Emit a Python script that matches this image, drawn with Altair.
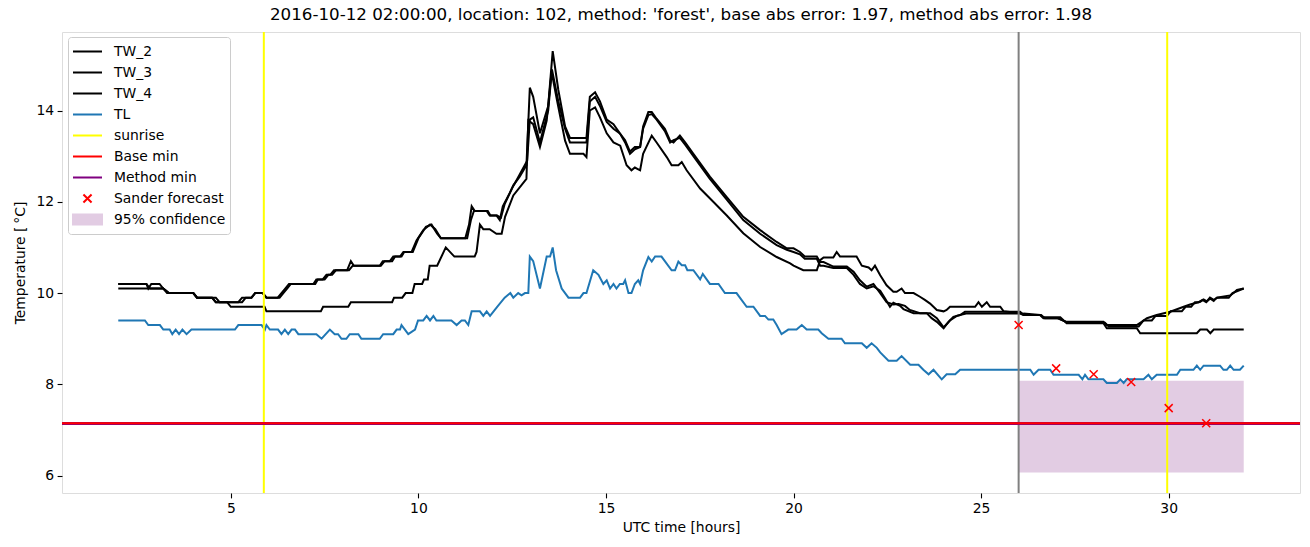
import altair as alt
import pandas as pd

# ---------------- data ----------------
TW2_T = [2.0, 2.75, 2.8, 2.88, 3.1, 3.2, 3.35, 4.0, 4.1, 4.6, 4.7, 5.2, 5.3, 5.55, 5.65, 5.85, 5.95, 6.3, 6.4, 6.5,
         6.6, 7.2, 7.28, 7.45, 7.55, 7.65, 7.75, 8.1, 8.2, 8.28, 8.97, 9.05, 9.24, 9.33, 9.51, 9.6, 9.82, 9.95, 10.13,
         10.31, 10.45, 10.6, 11.25, 11.35, 11.42, 11.5, 11.82, 11.9, 12.08, 12.17, 12.25, 12.44, 12.53, 12.7, 12.88,
         12.97, 13.06, 13.24, 13.46, 13.58, 13.73, 13.91, 14.04, 14.48, 14.57, 14.71, 14.84, 15.02, 15.2, 15.37,
         15.51, 15.64, 15.77, 15.91, 15.99, 16.13, 16.22, 16.35, 16.57, 16.71, 16.8, 16.97, 17.11, 17.33, 17.77,
         18.22, 18.66, 19.11, 19.55, 19.82, 20.0, 20.17, 20.3, 20.62, 20.71, 20.8, 21.06, 21.42, 21.6, 21.77, 21.95,
         22.13, 22.31, 22.48, 22.66, 22.8, 22.97, 23.1, 23.37, 23.64, 23.82, 24.0, 24.17, 24.35, 24.6, 26.04, 26.13,
         26.57, 26.66, 27.02, 27.28, 28.26, 28.35, 29.15, 29.28, 29.42, 29.68, 30.04, 30.4, 30.57, 30.84, 30.93,
         31.02, 31.11, 31.2, 31.28, 31.64, 31.73, 31.82, 32.0]
TW2_V = [10.2, 10.2, 10.1, 10.2, 10.2, 10.1, 10.0, 10.0, 9.9, 9.9, 9.8, 9.8, 9.9, 9.9, 10.0, 10.0, 9.9, 9.9, 10.0, 10.1,
         10.2, 10.2, 10.3, 10.3, 10.4, 10.4, 10.5, 10.5, 10.7, 10.6, 10.6, 10.7, 10.7, 10.8, 10.8, 10.9, 10.9, 11.15,
         11.38, 11.5, 11.4, 11.2, 11.2, 11.5, 11.9, 11.8, 11.8, 11.7, 11.7, 11.6, 11.9, 12.2, 12.36, 12.55, 12.8,
         14.5, 14.3, 13.5, 14.1, 15.3, 14.45, 13.65, 13.4, 13.4, 14.3, 14.4, 14.2, 13.8, 13.7, 13.5,
         13.35, 13.1, 13.2, 13.2, 13.65, 13.97, 13.97, 13.82, 13.6, 13.34, 13.3, 13.45, 13.3, 13.05, 12.55,
         12.1, 11.67, 11.38, 11.12, 10.98, 10.98, 10.9, 10.8, 10.8, 10.68, 10.68, 10.58, 10.58, 10.47, 10.28, 10.14,
         10.2, 10.0, 9.8, 9.75, 9.76, 9.72, 9.63, 9.56, 9.56, 9.45, 9.25, 9.4, 9.5, 9.55, 9.55, 9.52,
         9.52, 9.45, 9.45, 9.37, 9.37, 9.3, 9.3, 9.37, 9.45, 9.52, 9.59, 9.7, 9.75, 9.81, 9.86,
         9.82, 9.88, 9.83, 9.9, 9.95, 10.0, 10.07, 10.1]

TW3_T = [2.0, 2.75, 2.85, 3.2, 3.3, 4.0, 4.1, 4.5, 4.6, 5.3, 5.4, 5.55, 5.65, 5.85, 5.95, 6.25, 6.35, 6.45, 6.55,
         7.25, 7.32, 7.5, 7.6, 7.7, 7.8, 8.15, 8.25, 9.0, 9.1, 9.3, 9.38, 9.55, 9.62, 9.85, 10.0, 10.2, 10.35, 10.5,
         10.6, 11.3, 11.4, 11.48, 11.85, 11.92, 12.1, 12.2, 12.3, 12.5, 12.7, 12.9, 12.97, 13.06, 13.24, 13.46, 13.56,
         13.73, 13.91, 14.04, 14.48, 14.57, 14.71, 14.84, 15.02, 15.2, 15.37, 15.51, 15.64, 15.77, 15.91, 15.99,
         16.13, 16.22, 16.35, 16.57, 16.71, 16.8, 16.97, 17.11, 17.33, 17.77, 18.22, 18.66, 19.11, 19.55, 19.82,
         20.0, 20.17, 20.3, 20.62, 20.71, 20.8, 21.06, 21.42, 21.6, 21.77, 21.95, 22.13, 22.31, 22.44, 22.57, 22.66,
         22.84, 22.93, 23.2, 23.55, 23.68, 23.82, 24.0, 24.13, 24.26, 24.44, 24.57, 26.04, 26.13, 26.6, 26.7, 27.05,
         27.3, 28.3, 28.4, 29.2, 29.33, 29.55, 29.65, 29.95, 30.05, 30.35, 30.45, 30.6, 30.7, 30.8, 30.9, 31.0,
         31.1, 31.2, 31.3, 31.6, 31.7, 31.85, 32.0]
TW3_V = [10.2, 10.2, 10.1, 10.1, 10.0, 10.0, 9.9, 9.9, 9.8, 9.8, 9.9, 9.9, 10.0, 10.0, 9.9, 9.9, 10.0, 10.1, 10.2,
         10.2, 10.3, 10.3, 10.4, 10.4, 10.5, 10.5, 10.6, 10.6, 10.7, 10.7, 10.8, 10.8, 10.9, 10.9, 11.2, 11.45, 11.5,
         11.3, 11.2, 11.2, 11.6, 11.8, 11.8, 11.7, 11.7, 11.65, 11.95, 12.3, 12.6, 12.9, 13.8, 13.85, 13.3, 14.0,
         14.9, 14.2, 13.6, 13.3, 13.3, 14.2, 14.3, 14.1, 13.75, 13.6, 13.5, 13.3, 13.05, 13.15, 13.2, 13.6,
         13.9, 13.92, 13.8, 13.55, 13.3, 13.35, 13.4, 13.25, 13.0, 12.5, 12.05, 11.6, 11.3, 11.05, 10.95,
         10.9, 10.85, 10.75, 10.75, 10.6, 10.6, 10.55, 10.55, 10.4, 10.2, 10.1, 10.15, 10.05, 9.88, 9.7, 9.79,
         9.72, 9.65, 9.56, 9.56, 9.45, 9.37, 9.23, 9.37, 9.48, 9.52, 9.59, 9.59, 9.52, 9.52, 9.45, 9.45,
         9.35, 9.35, 9.27, 9.27, 9.4, 9.4, 9.5, 9.5, 9.6, 9.6, 9.7, 9.7, 9.8, 9.8, 9.85, 9.8,
         9.9, 9.85, 9.9, 9.9, 10.0, 10.05, 10.1]

TW4_T = [2.0, 3.2, 3.35, 4.0, 4.1, 4.5, 4.6, 4.9, 5.0, 5.9, 5.95, 7.4, 7.46, 8.13, 8.2, 9.3, 9.35, 9.57, 9.66, 9.84,
         9.9, 10.1, 10.15, 10.25, 10.3, 10.5, 10.73, 10.96, 11.5, 11.55, 11.64, 11.73, 11.9, 12.08, 12.22, 12.31,
         12.53, 12.88, 12.93, 13.06, 13.24, 13.42, 13.55, 13.7, 13.91, 14.04, 14.4, 14.48, 14.57, 14.71, 14.84,
         15.02, 15.2, 15.38, 15.55, 15.68, 15.77, 15.91, 15.99, 16.22, 16.35, 16.62, 16.75, 16.93, 17.02, 17.15,
         17.51, 17.86, 18.22, 18.66, 19.11, 19.55, 19.91, 20.0, 20.26, 20.62, 20.71, 20.8, 21.06, 21.15, 21.24,
         21.68, 21.82, 22.0, 22.08, 22.17, 22.31, 22.48, 22.66, 22.75, 22.88, 22.97, 23.2, 23.37, 23.5, 23.64,
         23.82, 24.0, 24.08, 24.17, 24.84, 24.93, 25.02, 25.15, 25.24, 25.51, 25.6, 26.13, 26.57, 26.66, 27.11,
         27.28, 28.26, 28.35, 29.15, 29.24, 30.75, 30.84, 31.02, 31.11, 31.2, 32.0]
TW4_V = [10.1, 10.1, 10.0, 10.0, 9.9, 9.9, 9.8, 9.8, 9.7, 9.7, 9.6, 9.6, 9.7, 9.7, 9.8, 9.8, 9.9, 9.9, 10.0, 10.0,
         10.2, 10.2, 10.3, 10.3, 10.6, 10.6, 11.0, 10.8, 10.8, 10.9, 11.5, 11.4, 11.4, 11.3, 11.3, 11.67,
         12.14, 12.5, 13.78, 13.7, 13.2, 13.78, 14.85, 14.2, 13.34, 13.05, 13.05, 12.98, 14.0, 14.07, 13.85,
         13.5, 13.3, 13.23, 12.8, 12.69, 12.75, 12.69, 13.05, 13.45, 13.3, 12.98, 12.8, 12.8, 12.87, 12.69,
         12.29, 12.0, 11.7, 11.31, 11.01, 10.79, 10.65, 10.6, 10.5, 10.5, 10.72, 10.78, 10.78, 10.9, 10.8,
         10.8, 10.6, 10.56, 10.5, 10.6, 10.39, 10.17, 10.03, 10.03, 10.1, 10.0, 10.0, 9.92, 9.85, 9.77,
         9.63, 9.6, 9.63, 9.7, 9.7, 9.8, 9.7, 9.8, 9.7, 9.7, 9.6, 9.55, 9.52, 9.47, 9.47,
         9.34, 9.34, 9.23, 9.23, 9.12, 9.12, 9.2, 9.2, 9.12, 9.2, 9.2]

TL_T = [2.0, 2.71, 2.8, 3.11, 3.2, 3.37, 3.44, 3.53, 3.62, 3.71, 3.82, 3.95, 5.11, 5.2, 5.82, 5.91, 5.95, 6.04, 6.26,
        6.35, 6.44, 6.53, 6.62, 6.71, 6.8, 7.28, 7.42, 7.64, 7.77, 7.86, 7.95, 8.08, 8.17, 8.4, 8.48, 8.97, 9.06,
        9.33, 9.42, 9.51, 9.55, 9.73, 9.91, 9.99, 10.13, 10.22, 10.31, 10.4, 10.48, 10.88, 11.02, 11.15, 11.24,
        11.33, 11.42, 11.64, 11.73, 11.82, 11.91, 12.1, 12.3, 12.45, 12.53, 12.66, 12.75, 12.84, 12.93, 12.97,
        13.06, 13.24, 13.42, 13.51, 13.58, 13.67, 13.82, 14.0, 14.31, 14.4, 14.48, 14.66, 14.8, 14.93, 15.02,
        15.11, 15.2, 15.28, 15.37, 15.46, 15.51, 15.6, 15.68, 15.77, 15.86, 15.91, 15.99, 16.13, 16.22, 16.31,
        16.48, 16.75, 16.84, 16.93, 17.02, 17.11, 17.17, 17.33, 17.51, 17.58, 17.77, 18.0, 18.17, 18.48, 18.75,
        18.93, 19.11, 19.24, 19.33, 19.46, 19.55, 19.68, 19.86, 20.08, 20.22, 20.35, 20.66, 20.75, 20.93, 21.28,
        21.37, 21.82, 21.95, 22.08, 22.22, 22.31, 22.53, 22.75, 22.88, 23.11, 23.33, 23.46, 23.6, 23.73, 23.95,
        24.08, 24.31, 24.44, 26.31, 26.4, 26.53, 26.84, 26.93, 27.6, 27.7, 27.77, 27.86, 28.08, 28.26, 28.35,
        28.62, 28.71, 28.8, 28.88, 29.33, 29.46, 29.55, 29.68, 30.22, 30.31, 30.66, 30.75, 30.84, 30.93, 31.37,
        31.46, 31.55, 31.64, 31.73, 31.9, 32.0]
TL_V = [9.4, 9.4, 9.3, 9.3, 9.2, 9.2, 9.1, 9.2, 9.1, 9.2, 9.1, 9.2, 9.2, 9.3, 9.3, 9.2, 9.3, 9.2, 9.2,
        9.1, 9.2, 9.1, 9.2, 9.2, 9.1, 9.1, 9.0, 9.2, 9.1, 9.1, 9.0, 9.0, 9.1, 9.1, 9.0, 9.0, 9.1,
        9.1, 9.2, 9.2, 9.3, 9.1, 9.2, 9.4, 9.4, 9.5, 9.4, 9.5, 9.4, 9.4, 9.3, 9.4, 9.4,
        9.3, 9.6, 9.6, 9.5, 9.6, 9.5, 9.7, 9.9, 10.0, 9.9, 10.0, 9.95, 10.0, 10.0, 10.8,
        10.7, 10.1, 10.8, 10.8, 11.0, 10.5, 10.1, 9.9, 9.9, 10.0, 10.0, 10.5, 10.4, 10.2, 10.28,
        10.1, 10.2, 10.1, 10.2, 10.2, 10.28, 10.0, 10.0, 10.2, 10.28, 10.2, 10.5, 10.79, 10.69, 10.8,
        10.8, 10.5, 10.5, 10.69, 10.61, 10.61, 10.5, 10.5, 10.3, 10.42, 10.2, 10.2, 10.0, 10.0, 9.7,
        9.7, 9.5, 9.5, 9.42, 9.42, 9.3, 9.1, 9.2, 9.2, 9.3, 9.2, 9.2, 9.12, 9.0, 9.0,
        8.9, 8.9, 8.8, 8.9, 8.8, 8.7, 8.52, 8.52, 8.62, 8.43, 8.43, 8.32, 8.22, 8.32, 8.11,
        8.22, 8.22, 8.32, 8.32, 8.21, 8.32, 8.32, 8.21, 8.21, 8.11, 8.21, 8.11, 8.11, 8.11, 8.03,
        8.03, 8.11, 8.03, 8.11, 8.11, 8.21, 8.11, 8.21, 8.21, 8.32, 8.32, 8.41, 8.32, 8.41, 8.41,
        8.32, 8.32, 8.41, 8.32, 8.32, 8.41]

SUNRISE_T = [5.88, 29.96]
FORECAST_T = [26.0]
BASE_MIN = [7.15]
METHOD_MIN = [7.14]
SANDER_T = [26, 27, 28, 29, 30, 31]
SANDER_V = [9.30, 8.35, 8.22, 8.05, 7.48, 7.15]
CONF_T0 = [26.0]
CONF_T1 = [32.0]
CONF_LO = [6.07]
CONF_HI = [8.08]

X_DOMAIN = [0.5, 33.5]
Y_DOMAIN = [5.62, 15.72]
X_TICKS = [5, 10, 15, 20, 25, 30]
Y_TICKS = [6, 8, 10, 12, 14]

LEGEND_NAMES = ["TW_2", "TW_3", "TW_4", "TL", "sunrise", "Base min", "Method min",
                "Sander forecast", "95% confidence"]

TITLE = "2016-10-12 02:00:00, location: 102, method: 'forest', base abs error: 1.97, method abs error: 1.98"

# ---------------- styling ----------------
FONT = "DejaVu Sans"
FS = 13.9
BLUE = "#1f77b4"
BAND = "#e2cce3"

x_scale = alt.Scale(domain=X_DOMAIN, nice=False, zero=False)
y_scale = alt.Scale(domain=Y_DOMAIN, nice=False, zero=False)
x_axis = alt.Axis(values=X_TICKS, format="d", title="UTC time [hours]", grid=False, domain=False,
                  tickSize=4.9, tickWidth=1.1, tickColor="black", labelColor="black",
                  labelFont=FONT, labelFontSize=FS, labelPadding=3.5, titleFont=FONT,
                  titleFontSize=FS, titleFontWeight="normal", titleColor="black", titlePadding=5)
y_axis = alt.Axis(values=Y_TICKS, format="d", title="Temperature [\u2009°C]", grid=False, domain=False,
                  tickSize=4.9, tickWidth=1.1, tickColor="black", labelColor="black",
                  labelFont=FONT, labelFontSize=FS, labelPadding=3.5, titleFont=FONT,
                  titleFontSize=FS, titleFontWeight="normal", titleColor="black", titlePadding=8)

rows = []
for name, ts, vs in [("TW_2", TW2_T, TW2_V), ("TW_3", TW3_T, TW3_V), ("TW_4", TW4_T, TW4_V), ("TL", TL_T, TL_V)]:
    for i, (t, v) in enumerate(zip(ts, vs)):
        rows.append({"series": name, "t": t, "v": v, "i": i})
lines_df = pd.DataFrame(rows)

band = alt.Chart(pd.DataFrame({"t0": CONF_T0, "t1": CONF_T1, "lo": CONF_LO, "hi": CONF_HI})).mark_rect(
    color=BAND, opacity=1).encode(
    x=alt.X("t0:Q", scale=x_scale, axis=x_axis), x2="t1:Q",
    y=alt.Y("lo:Q", scale=y_scale, axis=y_axis), y2="hi:Q")

lines = alt.Chart(lines_df).mark_line(strokeWidth=2).encode(
    x=alt.X("t:Q", scale=x_scale, axis=x_axis),
    y=alt.Y("v:Q", scale=y_scale, axis=y_axis),
    color=alt.Color("series:N", scale=alt.Scale(domain=["TW_2", "TW_3", "TW_4", "TL"],
                                                range=["black", "black", "black", BLUE]), legend=None),
    detail="series:N",
    order="i:Q")

sunrise = alt.Chart(pd.DataFrame({"t": SUNRISE_T})).mark_rule(color="yellow", strokeWidth=2).encode(
    x=alt.X("t:Q", scale=x_scale))
fc_line = alt.Chart(pd.DataFrame({"t": FORECAST_T})).mark_rule(color="grey", strokeWidth=2).encode(
    x=alt.X("t:Q", scale=x_scale))
method_min = alt.Chart(pd.DataFrame({"v": METHOD_MIN})).mark_rule(color="purple", strokeWidth=3).encode(
    y=alt.Y("v:Q", scale=y_scale))
base_min = alt.Chart(pd.DataFrame({"v": BASE_MIN})).mark_rule(color="red", strokeWidth=2).encode(
    y=alt.Y("v:Q", scale=y_scale))

XMARK = "M-1,-1L1,1M1,-1L-1,1"
sander = alt.Chart(pd.DataFrame({"t": SANDER_T, "v": SANDER_V})).mark_point(
    shape=XMARK, size=64, color="red", strokeWidth=1.5, filled=False, opacity=1).encode(
    x=alt.X("t:Q", scale=x_scale), y=alt.Y("v:Q", scale=y_scale))

# legend built from a dummy layer placed outside the view
LINE_SYM = "M-1,0L1,0"
X_SYM = "M-0.28,-0.28L0.28,0.28M0.28,-0.28L-0.28,0.28"
BOX_SYM = "M-1,-0.35L1,-0.35L1,0.35L-1,0.35Z"
leg_stroke = ["black", "black", "black", BLUE, "yellow", "red", "purple", "red", BAND]
leg_fill = ["transparent"] * 8 + [BAND]
leg_shape = [LINE_SYM] * 7 + [X_SYM, BOX_SYM]
legend_spec = alt.Legend(title=None, orient="none", legendX=6, legendY=5, padding=4,
                         fillColor="white", strokeColor="#cccccc", cornerRadius=3,
                         labelFont=FONT, labelFontSize=FS, labelColor="black", labelOffset=11,
                         symbolSize=841, symbolStrokeWidth=2, clipHeight=21, rowPadding=0,
                         symbolOpacity=1, labelLimit=300)
legend_layer = alt.Chart(pd.DataFrame({"name": LEGEND_NAMES})).mark_point(
    filled=False, opacity=1, size=841, strokeWidth=2).encode(
    x=alt.value(-2000), y=alt.value(200),
    stroke=alt.Stroke("name:N", scale=alt.Scale(domain=LEGEND_NAMES, range=leg_stroke), legend=legend_spec),
    fill=alt.Fill("name:N", scale=alt.Scale(domain=LEGEND_NAMES, range=leg_fill), legend=legend_spec),
    shape=alt.Shape("name:N", scale=alt.Scale(domain=LEGEND_NAMES, range=leg_shape), legend=legend_spec))

chart = alt.layer(band, lines, sunrise, fc_line, method_min, base_min, sander, legend_layer).properties(
    width=1238, height=461,
    title=alt.Title(TITLE, font=FONT, fontSize=16.7, fontWeight="normal", color="black", offset=7,
                    frame="group", anchor="middle"),
    autosize=alt.AutoSizeParams(type="none"),
    padding={"left": 62, "top": 32, "right": 10, "bottom": 54},
).configure_view(stroke="black", strokeWidth=1.1).configure(background="white")

chart.save("out.html", embed_options={"renderer": "svg", "actions": False})
